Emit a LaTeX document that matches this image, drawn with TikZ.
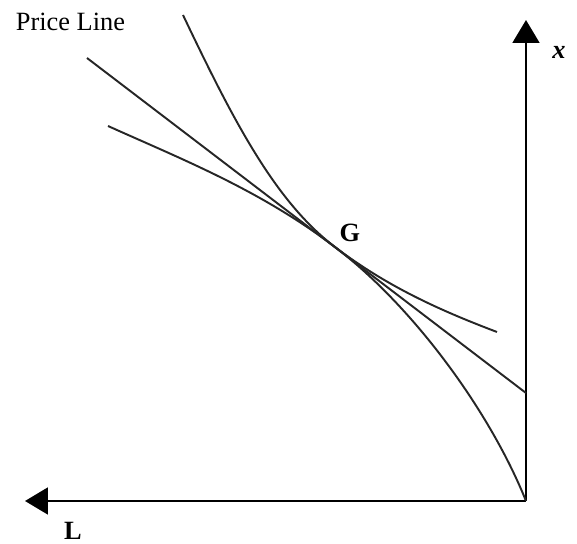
\documentclass[tikz,border=0pt]{standalone}
\usepackage{fontspec}
\setmainfont{Liberation Serif}
\usepackage{tikz}
\usetikzlibrary{positioning,calc,arrows.meta}
\tikzstyle{axis} = [line width=1.1pt, -{Triangle[length=4.6mm, width=5.4mm]}]
\tikzstyle{curve} = [line width=1.1pt, black!85]
\tikzstyle{label} = [font=\fontsize{15}{18}\selectfont, inner sep=0pt]

\begin{document}
\begin{tikzpicture}
    \useasboundingbox (-10.52,-0.86) rectangle (1.02,10.02);

    % Axes
    \coordinate (O) at (0,0);
    \coordinate (xend) at (0,9.62);
    \coordinate (Lend) at (-10.02,0);
    \draw[axis] (O) -- (xend);
    \draw[axis] (O) -- (Lend);
    \node[label, font=\fontsize{15}{18}\selectfont\itshape\bfseries] (xlab) at (0.66,8.98) {x};
    \node[label, font=\fontsize{15}{18}\selectfont\bfseries] (Llab) at (-9.06,-0.6) {L};

    % Tangency point
    \coordinate (T) at (-3.82,5.08);
    \node[label, font=\fontsize{15}{18}\selectfont\bfseries] (G) at (-3.52,5.36) {G};

    % Price line
    \coordinate (p1) at (-8.78,8.86);
    \coordinate (p2) at (0,2.16);
    \draw[curve] (p1) -- (p2);
    \node[label] (price) at (-9.11,9.58) {Price Line};

    % Steep curve
    \coordinate (s1) at (-6.86,9.72);
    \draw[curve] (s1) .. controls (-5.86,7.62) and (-5.02,5.99) .. (T)
                      .. controls (-2.22,3.86) and (-0.7,1.75) .. (O);

    % Flat curve
    \coordinate (f1) at (-8.36,7.5);
    \coordinate (f2) at (-0.58,3.38);
    \draw[curve] (f1) .. controls (-6.86,6.825) and (-5.32,6.22) .. (T)
                      .. controls (-2.72,4.24) and (-1.58,3.76) .. (f2);
\end{tikzpicture}
\end{document}
